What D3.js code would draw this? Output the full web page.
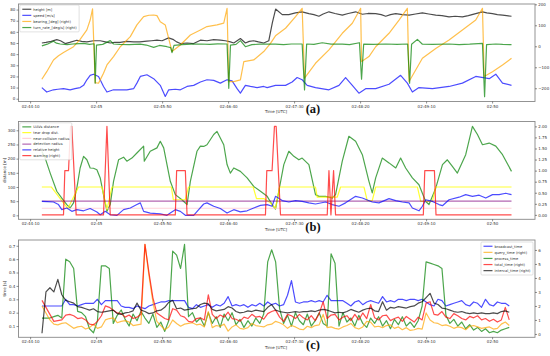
<!DOCTYPE html>
<html>
<head>
<meta charset="utf-8">
<script src="https://cdn.jsdelivr.net/npm/d3@7"></script>
<style>
  body { margin: 0; background: #fff; }
  svg text { font-family: "DejaVu Sans", sans-serif; }
</style>
</head>
<body>
<svg id="chart" width="550" height="356"></svg>
<script>
// all times are seconds after 02:44:00 UTC
const timeTicks = [10, 60, 110, 160, 210, 260, 310, 360];
const timeLabels = ["02:44:10", "02:45", "02:45:50", "02:46:40", "02:47:30", "02:48:20", "02:49:10", "02:50"];

// ---- (a) flight state ----
const height = [[18.9,50],[22,50.5],[26,51.5],[30.2,53],[33,52],[36.6,49.5],[40,50.5],[45.4,52.5],[49,51.5],[53,51],[58,52],[63.1,52],[67,51],[70.7,50],[74,50.5],[78.3,50.5],[83,51.5],[88.4,51],[93,51],[98.5,51.6],[102,52],[106.1,52.5],[110,52],[114.9,54.6],[118.7,53],[121,51],[123.8,49.5],[128.9,50],[133.9,49.5],[139,52.5],[144,52],[149.1,53],[154.1,52.5],[158,52],[161.7,51],[164.3,50],[169.3,54],[173.1,50],[176,51.5],[179.4,52],[183,51],[187,50],[190.8,52],[193.5,68],[196,80.5],[201,75.5],[206,75.5],[211,77],[216.1,78],[221.2,76.4],[225,75.5],[228.8,74],[232,76],[236.4,78],[241,76.5],[246.5,75],[251,76.5],[256.6,78],[261.7,75.8],[266,76.5],[271.8,76.4],[276,75.5],[279.4,74],[283,75.5],[287,76.4],[292,75.5],[297.1,75],[302,76],[307.2,77],[312,76],[317.3,75],[322,74.5],[327.4,73.4],[332,74],[337.5,73.4],[342,74.5],[347.6,76.4],[352.7,78],[356,77],[360.3,76.4],[364,75.5],[367.9,75],[371,74.5],[374.7,74]];
const speed = [[18.9,10],[22.6,6],[27.7,8],[31,8.5],[35.3,9],[40.3,8],[44,9],[47.9,10],[50.5,12],[53,17],[55.5,21],[58,22],[61.8,20],[63.1,17],[65.6,11],[68.2,6],[73.2,8],[78,8],[83.3,8],[88.4,9],[90.9,14],[93.5,20],[98.5,21.5],[103.6,18],[108.6,12],[112.4,2],[115,8],[120,8.5],[123.8,8],[128.9,11],[133.9,12],[139,15],[144,17],[149.1,16.5],[154.1,14],[159.2,17],[163,16],[166.8,9],[169.3,5],[173.1,12],[176.9,11],[182,10],[187,11],[189.6,10],[195.9,12],[203.5,12],[208.5,15],[212.3,19],[216.1,17],[219.9,12],[226.2,10],[236.4,8],[244,12],[249,19],[254.1,12],[259.1,5],[264.2,9],[271.8,9],[281.9,13],[290.7,21],[295.8,14],[299.6,6],[304.6,10],[314.8,9],[327.4,11],[337.5,14],[347.6,20],[357.8,18],[362.8,22],[367.9,14],[374.7,12]];
const bearing = [[18.9,-157],[22.6,-121],[27.7,-65],[31.5,-45],[35.3,-30],[42.9,-2],[47.9,33],[53,78],[55.5,125],[57.3,178],[59.3,-173],[61.8,-176],[63.1,-160],[65.6,-128],[68.2,-89],[73.2,-49],[78.3,-2],[85.9,46],[90.9,102],[96,141],[100,148],[103.6,149],[106.1,146],[108.6,117],[112.4,102],[117.5,-25],[123.8,6],[131.4,54],[139,78],[144,94],[151.6,102],[156.7,110],[159.2,181],[160.5,-168],[164.3,-168],[169.3,-160],[171.9,-73],[179.4,-65],[187,-25],[192.1,14],[195.9,50],[203.5,86],[211.1,141],[216.1,181],[217.9,-152],[226.2,-81],[236.4,-17],[246.5,62],[254.1,110],[260.4,181],[261.1,-73],[266.7,-49],[271.8,-2],[281.9,62],[289.5,125],[295.8,181],[297.1,-168],[302.1,-113],[307.2,-57],[317.3,-10],[327.4,30],[337.5,78],[347.6,125],[352.7,181],[354,-144],[360.3,-121],[367.9,-89],[374.7,-57]];
const turnRate = [[18.9,2],[23,10],[27.7,24],[30,15],[32.8,11],[38,8],[44,12],[50.5,14],[55,9],[58.5,12],[59.3,-176],[60.3,6],[65,9],[70.7,27],[73.2,11],[78,9],[85,8],[93.5,10],[98,6],[103.6,-5],[108,4],[113.7,-2],[116.5,-6],[117.5,-30],[119,4],[125,8],[132,10],[139,11],[146,9],[152,12],[159.2,11],[160.5,-200],[161.8,6],[166,9],[169.3,27],[173.1,-2],[178,8],[184,10],[189.6,10],[195.9,10],[202,8],[208,11],[216.1,11],[217.9,-208],[219.5,11],[225,9],[231.3,17],[238,10],[246.5,10],[252,8],[259.5,17],[261.1,-157],[262.7,10],[270,9],[279.4,11],[288,9],[296,11],[297.5,-176],[299,10],[303.4,33],[307.2,10],[315,9],[327.4,11],[335,8],[343,10],[352.7,14],[354.3,-240],[355.8,8],[362.8,11],[368,9],[374.7,8]];

// ---- (b) separation ----
const uavDistance = [[18.9,225],[21.4,202],[25.2,149],[30.2,85],[34,61],[37.8,38],[40.3,26],[42.9,44],[45.4,96],[47.9,167],[50.5,208],[53,196],[55.5,167],[58,166],[60.6,161],[63.1,132],[65.6,73],[68.2,14],[70.7,38],[73.2,120],[77,196],[80.8,205],[83.3,191],[87.1,202],[90.9,220],[96,244],[96.5,191],[101,226],[106.1,238],[108.6,261],[111.2,238],[113.7,179],[116.2,120],[120,73],[125,55],[128.9,38],[131.4,120],[136.4,226],[139,244],[141.5,243],[144,249],[149.1,285],[151.6,296],[154.1,273],[156.7,249],[159.2,179],[161.7,149],[164.3,167],[169.3,155],[174.4,132],[179.4,102],[184.5,85],[189.6,67],[193.3,38],[195.9,22],[198.4,85],[202.2,179],[206,226],[209.8,208],[213.6,196],[216.1,202],[221.2,179],[226.2,73],[228.8,67],[233.8,67],[238.9,61],[241.4,73],[246.5,191],[251.5,279],[256.6,261],[261.7,214],[266.7,120],[269.2,79],[271.8,132],[276.8,202],[281.9,185],[287,167],[290.7,202],[294.5,167],[299.6,132],[304.6,108],[309.7,49],[312.2,38],[317.3,96],[322.4,179],[326.1,196],[329.9,173],[333.7,149],[340,214],[345.1,314],[348.9,285],[352.7,249],[357.8,255],[362.8,244],[367.9,214],[374.7,155]];
const tearDrop = [[18.9,100],[26,100],[38.6,24],[46.7,100],[64.4,100],[68.2,20],[72,100],[117,100],[118.5,55],[127.5,55],[130,100],[179,100],[181.5,59],[187,59],[192,44],[195.9,24],[199,100],[226.2,100],[227.5,64],[242.7,64],[245.2,100],[262.9,100],[265.4,52],[269.2,52],[271.8,100],[303.4,100],[305.9,49],[314.8,49],[317.3,100],[374.7,100]];
const nearCollision = [[18.9,25],[374.7,25]];
const detectionRadius = [[18.9,50],[374.7,50]];
const relHeight = [[18.9,49],[23,48],[27.7,47],[31.5,38],[34,20],[37.8,26],[41.6,14],[45.4,20],[50.5,16],[55.5,24],[60.6,12],[63.1,2],[66.9,14],[70.7,2],[75.8,0],[80.8,20],[85.9,26],[90.9,38],[93.5,44],[96,14],[101,8],[108.6,5],[113.7,0],[116.2,8],[120,20],[123.8,14],[127.6,0],[133.9,0],[137.7,20],[141.5,40],[144,44],[149.1,32],[154.1,24],[159.2,8],[164.3,20],[169.3,12],[174.4,16],[179.4,26],[184.5,35],[189.6,38],[193.3,32],[195.9,67],[201,52],[206,47],[211.1,52],[216.1,49],[221.2,44],[226.2,40],[233.8,47],[238.9,38],[244,32],[249,44],[256.6,67],[261.7,61],[269.2,47],[274.3,44],[281.9,59],[287,52],[292,47],[297.1,44],[299.6,26],[304.6,16],[307.2,32],[309.7,55],[314.8,49],[319.8,38],[322.4,34],[327.4,55],[335,64],[340,73],[345.1,67],[350.2,71],[355.2,61],[360.3,73],[365.3,73],[370.4,78],[374.7,73]];
const warning = [[18.9,0],[35.3,0],[36.3,1],[39.1,1],[40.6,2],[41.6,2],[44.9,0],[65.6,0],[68.2,2],[70.7,0],[120,0],[121,1],[127.6,1],[128.9,0],[188.3,0],[189.3,1],[193.3,1],[195.1,2],[196.4,2],[199.7,0],[235.1,0],[236.4,1],[237.9,0],[239.9,1],[241.4,0],[307.9,0],[309,1],[316.3,1],[317.5,0],[374.7,0]];

// ---- (c) timings, one sample every 3 s from 19 s ----
const timeC = d3.range(19, 374, 3);
const broadcastTime = [0.25,0.25,0.25,0.25,0.25,0.25,0.30,0.26,0.26,0.25, 0.26,0.27,0.27,0.27,0.30,0.26,0.29,0.29,0.29,0.29, 0.25,0.24,0.24,0.23,0.25,0.24,0.23,0.25,0.26,0.27, 0.28,0.28,0.29,0.29,0.29,0.29,0.29,0.24,0.23,0.26, 0.24,0.25,0.26,0.24,0.26,0.25,0.27,0.32,0.25,0.26, 0.25,0.26,0.24,0.26,0.25,0.27,0.25,0.28,0.26,0.27, 0.25,0.26,0.33,0.44,0.28,0.27,0.28,0.28,0.29,0.28, 0.29,0.28,0.33,0.29,0.29,0.29,0.29,0.27,0.25,0.28, 0.29,0.26,0.28,0.29,0.28,0.27,0.32,0.28,0.29,0.28, 0.30,0.30,0.29,0.30,0.30,0.29,0.30,0.28,0.26,0.25, 0.30,0.29,0.25,0.26,0.27,0.28,0.29,0.26,0.25,0.28, 0.27,0.24,0.30,0.26,0.25,0.28,0.27,0.27,0.25];
const processTime = [0.16,0.16,0.16,0.17,0.18,0.16,0.60,0.58,0.53,0.21, 0.20,0.17,0.08,0.05,0.14,0.55,0.55,0.53,0.12,0.18, 0.22,0.15,0.10,0.19,0.14,0.21,0.16,0.12,0.19,0.09, 0.13,0.06,0.14,0.66,0.63,0.53,0.71,0.17,0.20,0.13, 0.16,0.10,0.20,0.12,0.17,0.09,0.19,0.14,0.20,0.11, 0.15,0.09,0.14,0.10,0.16,0.12,0.19,0.58,0.67,0.58, 0.23,0.12,0.18,0.10,0.20,0.14,0.11,0.19,0.10,0.14, 0.20,0.12,0.10,0.64,0.57,0.10,0.20,0.13,0.16,0.10, 0.18,0.12,0.09,0.16,0.12,0.17,0.10,0.14,0.08,0.15, 0.11,0.17,0.10,0.13,0.09,0.14,0.25,0.58,0.57,0.56, 0.55,0.53,0.18,0.12,0.15,0.10,0.13,0.08,0.11,0.07, 0.09,0.06,0.08,0.05,0.06,0.05,0.07,0.08,0.09];
const queryTime = [2.00,1.50,1.00,0.70,0.65,0.75,0.80,0.60,0.40,0.50, 0.55,0.35,0.45,0.70,0.40,0.50,1.00,1.10,1.15,0.80, 0.90,0.95,0.85,0.60,0.65,0.70,6.40,4.20,2.30,0.90, 0.60,0.30,0.50,1.00,0.75,0.55,0.70,0.75,0.80,0.65, 0.70,0.50,1.60,0.45,0.60,0.55,0.70,0.20,0.50,0.65, 0.40,0.35,0.45,0.75,0.60,0.55,0.50,0.65,0.70,0.90, 0.80,0.65,0.40,0.60,0.50,0.35,0.30,0.55,0.45,0.60, 0.65,1.40,0.45,0.50,0.40,0.35,0.50,0.60,0.75,0.45, 0.35,0.50,0.90,0.85,0.50,0.55,0.45,0.60,0.65,0.40, 0.50,0.30,0.45,0.25,0.30,0.40,0.35,1.50,1.00,0.80, 0.75,0.60,0.65,0.55,0.40,0.50,0.45,0.30,0.55,0.60, 0.50,0.40,0.45,0.50,0.35,0.40,0.70,0.85,0.60];
const totalTime = [2.40,1.90,1.40,0.90,0.95,1.00,1.35,1.40,1.30,1.10, 1.15,1.00,0.70,0.65,0.90,1.30,2.00,1.90,1.70,1.50, 1.45,1.20,1.35,1.10,1.20,1.40,6.40,4.40,2.60,1.50, 1.30,1.10,1.00,1.80,1.70,1.30,1.20,0.90,0.85,1.10, 1.15,1.00,2.80,1.40,1.10,1.35,1.20,1.55,1.10,1.05, 0.90,1.20,1.10,1.40,1.20,1.25,1.05,1.45,1.60,1.70, 1.20,0.90,1.40,1.30,1.10,1.40,1.15,1.00,1.30,0.95, 1.45,2.30,1.10,1.35,1.40,1.00,1.20,1.30,0.95,1.40, 1.00,1.50,1.10,2.10,1.15,1.00,1.30,1.35,0.95,1.10, 1.20,0.90,1.25,1.05,0.85,1.20,1.00,2.20,2.30,1.40, 1.35,1.60,1.20,1.10,1.45,1.30,1.10,1.00,1.25,1.15, 1.30,1.00,1.10,0.90,1.05,0.85,1.00,1.90,1.00];
const intervalTime = [0.05,3.00,3.30,3.00,3.90,2.80,2.40,2.30,2.20,1.95, 1.90,1.80,1.70,1.80,1.60,1.55,1.60,1.65,1.70,1.45, 1.40,1.50,1.55,1.65,2.20,1.70,1.60,1.45,1.50,1.65, 1.70,1.90,2.25,2.40,1.80,1.85,1.70,1.75,1.80,1.85, 2.10,2.20,2.15,1.75,1.65,1.70,1.75,1.95,1.85,1.60, 1.50,1.55,1.65,1.60,1.70,1.65,1.60,1.90,2.10,1.70, 1.60,1.55,1.50,1.55,1.60,1.55,1.60,1.60,1.65,1.60, 1.70,1.75,1.70,1.60,1.50,1.55,1.50,1.60,1.75,1.65, 1.55,1.70,1.80,1.85,1.65,1.60,2.30,1.70,1.90,1.85, 1.95,1.90,1.85,1.95,2.00,2.20,2.30,2.60,2.90,2.20, 2.10,1.85,1.80,1.70,1.60,1.55,1.60,1.50,1.45,1.50, 1.45,1.50,1.45,1.45,1.50,1.45,1.60,1.65,1.55];

const zipC = vals => timeC.map((t, i) => [t, vals[i]]);

const svg = d3.select("#chart");
const left = 18.5, right = 535;
const base = Date.UTC(2021, 0, 1, 2, 44, 0);
const toDate = s => new Date(base + s * 1000);
const x = d3.scaleUtc().domain([toDate(1.2), toDate(392.5)]).range([left, right]);
const fs = 4;

const minus = d => (d < 0 ? "\u2212" + Math.abs(d) : d);

const panels = [
  {
    top: 4, bottom: 101.5, tag: "(a)",
    yLeft: [-2.5, 85], yRight: [-263, 201.5],
    ticksLeft: d3.range(0, 81, 10), ticksRight: [-200, -100, 0, 100, 200],
    fmtLeft: d => d, fmtRight: minus,
    series: [
      { name: "height [m]", data: height, color: "black" },
      { name: "speed [m/s]", data: speed, color: "blue" },
      { name: "bearing_[deg] (right)", data: bearing, color: "orange", right: true },
      { name: "turn_rate_[deg/s] (right)", data: turnRate, color: "green", right: true }
    ],
    legend: { x: 19.8, y: 5, step: 6.1 }
  },
  {
    top: 121.5, bottom: 219.3, tag: "(b)", ylabel: "distance [m]",
    yLeft: [-14, 331], yRight: [-0.1, 2.11],
    ticksLeft: d3.range(0, 301, 50), ticksRight: [0, 0.25, 0.5, 0.75, 1, 1.25, 1.5, 1.75, 2],
    fmtLeft: d => d, fmtRight: d => d.toFixed(2),
    series: [
      { name: "UAVs distance", data: uavDistance, color: "green" },
      { name: "tear drop dist.", data: tearDrop, color: "#ffff00", op: 0.8 },
      { name: "near-collision radius", data: nearCollision, color: "pink" },
      { name: "detection radius", data: detectionRadius, color: "purple", op: 0.6 },
      { name: "relative height", data: relHeight, color: "blue" },
      { name: "warning (right)", data: warning, color: "red", right: true }
    ],
    legend: { x: 19.8, y: 122.8, step: 5.75 }
  },
  {
    top: 240, bottom: 337.3, tag: "(c)", ylabel: "time [s]",
    yLeft: [0.016, 0.743], yRight: [-0.24, 6.71],
    ticksLeft: [0.1, 0.2, 0.3, 0.4, 0.5, 0.6, 0.7], ticksRight: [0, 1, 2, 3, 4, 5, 6],
    fmtLeft: d => d.toFixed(1), fmtRight: d => d,
    series: [
      { name: "broadcast_time", data: zipC(broadcastTime), color: "blue", order: 0 },
      { name: "query_time (right)", data: zipC(queryTime), color: "orange", right: true, order: 2 },
      { name: "process_time", data: zipC(processTime), color: "green", order: 1 },
      { name: "total_time (right)", data: zipC(totalTime), color: "red", right: true, order: 3 },
      { name: "interval_time (right)", data: zipC(intervalTime), color: "black", right: true, order: 4 }
    ],
    legend: { right: 533, y: 242, step: 6.1 }
  }
];

function styleAxis(g) {
  g.select(".domain").remove();
  g.selectAll(".tick line").attr("stroke", "#444").attr("stroke-width", 0.6);
  g.selectAll(".tick text").attr("fill", "#333").style("font-size", fs + "px");
}

panels.forEach(p => {
  const yL = d3.scaleLinear().domain(p.yLeft).range([p.bottom, p.top]);
  const yR = d3.scaleLinear().domain(p.yRight).range([p.bottom, p.top]);
  const g = svg.append("g");

  const drawOrder = p.series.slice().sort((a, b) => (a.order ?? 0) - (b.order ?? 0));
  drawOrder.forEach(s => {
    const y = s.right ? yR : yL;
    g.append("path")
      .datum(s.data)
      .attr("fill", "none")
      .attr("stroke", s.color)
      .attr("stroke-opacity", s.op ?? 0.7)
      .attr("stroke-width", 1.2)
      .attr("stroke-linejoin", "round")
      .attr("d", d3.line().x(d => x(toDate(d[0]))).y(d => y(d[1])));
  });

  // frame
  g.append("rect")
    .attr("x", left).attr("y", p.top)
    .attr("width", right - left).attr("height", p.bottom - p.top)
    .attr("fill", "none").attr("stroke", "#888").attr("stroke-width", 0.9);

  g.append("g").attr("transform", `translate(0,${p.bottom})`)
    .call(d3.axisBottom(x).tickValues(timeTicks.map(toDate))
      .tickFormat((d, i) => timeLabels[i]).tickSize(2).tickPadding(1.2))
    .call(styleAxis);

  g.append("g").attr("transform", `translate(${left},0)`)
    .call(d3.axisLeft(yL).tickValues(p.ticksLeft).tickFormat(p.fmtLeft).tickSize(2).tickPadding(1.2))
    .call(styleAxis);

  g.append("g").attr("transform", `translate(${right},0)`)
    .call(d3.axisRight(yR).tickValues(p.ticksRight).tickFormat(p.fmtRight).tickSize(2).tickPadding(1.2))
    .call(styleAxis);

  g.append("text")
    .attr("x", 276).attr("y", p.bottom + 11.3)
    .attr("text-anchor", "middle").attr("fill", "#333")
    .style("font-size", fs + "px")
    .text("Time [UTC]");

  g.append("text")
    .attr("x", 313).attr("y", p.bottom + 11.5)
    .attr("text-anchor", "middle").attr("fill", "#111")
    .style("font-family", "'Liberation Serif', 'DejaVu Serif', serif")
    .style("font-weight", "bold").style("font-size", "12.5px")
    .text(p.tag);

  if (p.ylabel) {
    g.append("text")
      .attr("transform", `translate(6.3,${(p.top + p.bottom) / 2}) rotate(-90)`)
      .attr("text-anchor", "middle").attr("fill", "#333")
      .style("font-size", fs + "px")
      .text(p.ylabel);
  }

  // legend
  const L = p.legend;
  const lg = g.append("g");
  const box = lg.append("rect");
  const items = lg.selectAll("g.item").data(p.series).join("g").attr("class", "item");
  items.append("text")
    .attr("y", (d, i) => i * L.step + 1.3)
    .attr("fill", "#333").style("font-size", "3.6px")
    .text(d => d.name);
  let maxW = 0;
  items.select("text").each(function () { maxW = Math.max(maxW, this.getComputedTextLength()); });
  const boxW = maxW + 16;
  const boxH = p.series.length * L.step + 2.5;
  const bx = L.right ? L.right - boxW : L.x;
  lg.attr("transform", `translate(${bx},${L.y})`);
  box.attr("width", boxW).attr("height", boxH).attr("rx", 1)
    .attr("fill", "#fff").attr("fill-opacity", 0.85)
    .attr("stroke", "#ccc").attr("stroke-width", 0.6);
  items.attr("transform", `translate(0,${L.step / 2 + 1.2})`);
  items.select("text").attr("x", 13.5);
  items.insert("line", "text")
    .attr("x1", 2.5).attr("x2", 11.5)
    .attr("y1", (d, i) => i * L.step).attr("y2", (d, i) => i * L.step)
    .attr("stroke", d => d.color).attr("stroke-opacity", d => d.op ?? 0.7)
    .attr("stroke-width", 1.2);
});
</script>
</body>
</html>
